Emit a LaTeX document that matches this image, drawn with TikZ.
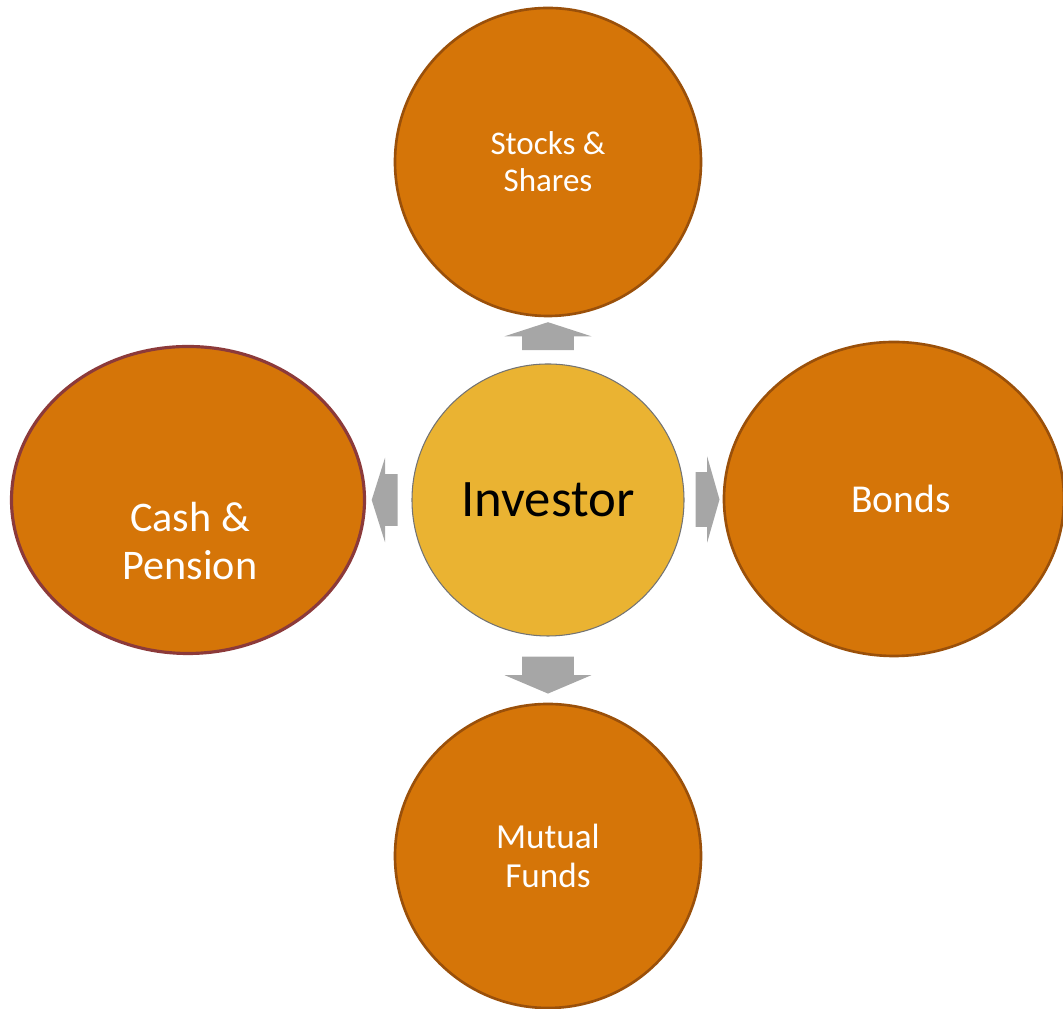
\documentclass[tikz,border=0pt]{standalone}
\usepackage{fontspec}
\setmainfont{Carlito}
\usepackage{tikz}
\usetikzlibrary{shapes.geometric,shapes.arrows,calc}
\definecolor{assetorange}{HTML}{D57508}
\definecolor{assetedge}{HTML}{9A500A}
\definecolor{cashedge}{HTML}{8C3A3A}
\definecolor{investgold}{HTML}{EAB332}
\definecolor{arrowgrey}{HTML}{A6A6A6}
\tikzset{
  asset/.style={ellipse, fill=assetorange, draw=assetedge, line width=1.5pt, inner sep=0pt, text=white, align=center},
  pointer/.style={single arrow, fill=arrowgrey, inner xsep=0pt, inner ysep=.51cm, single arrow head extend=.35cm, minimum width=0pt},
}

\begin{document}
\begin{tikzpicture}
\useasboundingbox (0,0) rectangle (21.26,20.18);

\node[circle, fill=investgold, draw=black!55, line width=.6pt, minimum size=5.44cm, inner sep=0pt, font=\fontsize{30}{36}\selectfont] (inv) at (10.96,10.18) {Investor};

\node[asset, minimum width=6.12cm, minimum height=6.16cm, font=\fontsize{18.8}{21}\selectfont] (stk) at (10.96,16.94) {Stocks \&\\Shares};
\node[asset, minimum width=6.8cm, minimum height=6.28cm, font=\fontsize{22.5}{26}\selectfont] (bnd) at (17.88,10.2) {\hspace*{.28cm}Bonds};
\node[asset, minimum width=6.12cm, minimum height=6.08cm, font=\fontsize{20}{22}\selectfont] (mf) at (10.96,3.06) {Mutual\\Funds};
\node[asset, draw=cashedge, line width=1.8pt, minimum width=7.06cm, minimum height=6.14cm] (cash) at (3.76,10.18) {};
\node[text=white, align=center, font=\fontsize{24}{27}\selectfont] (cashtxt) at ($(cash)+(0.04,-0.82)$) {Cash \&\\Pension};

% block arrows out of the investor
\node[pointer, rotate=90, minimum height=.56cm, single arrow tip angle=144] (arrN) at ($(inv.north)!.5!(stk.south)$) {};
\node[pointer, rotate=-90, minimum height=.74cm, single arrow tip angle=134] (arrS) at ($(inv.south)!.5!(mf.north)$) {};
\node[pointer, inner ysep=.54cm, single arrow head extend=.31cm, minimum height=.48cm, single arrow tip angle=148] (arrE) at ($(inv.east)!.5!(bnd.west)$) {};
\node[pointer, rotate=180, single arrow head extend=.33cm, minimum height=.52cm, single arrow tip angle=145] (arrW) at ($(inv.west)!.5!(cash.east)$) {};
\end{tikzpicture}
\end{document}
